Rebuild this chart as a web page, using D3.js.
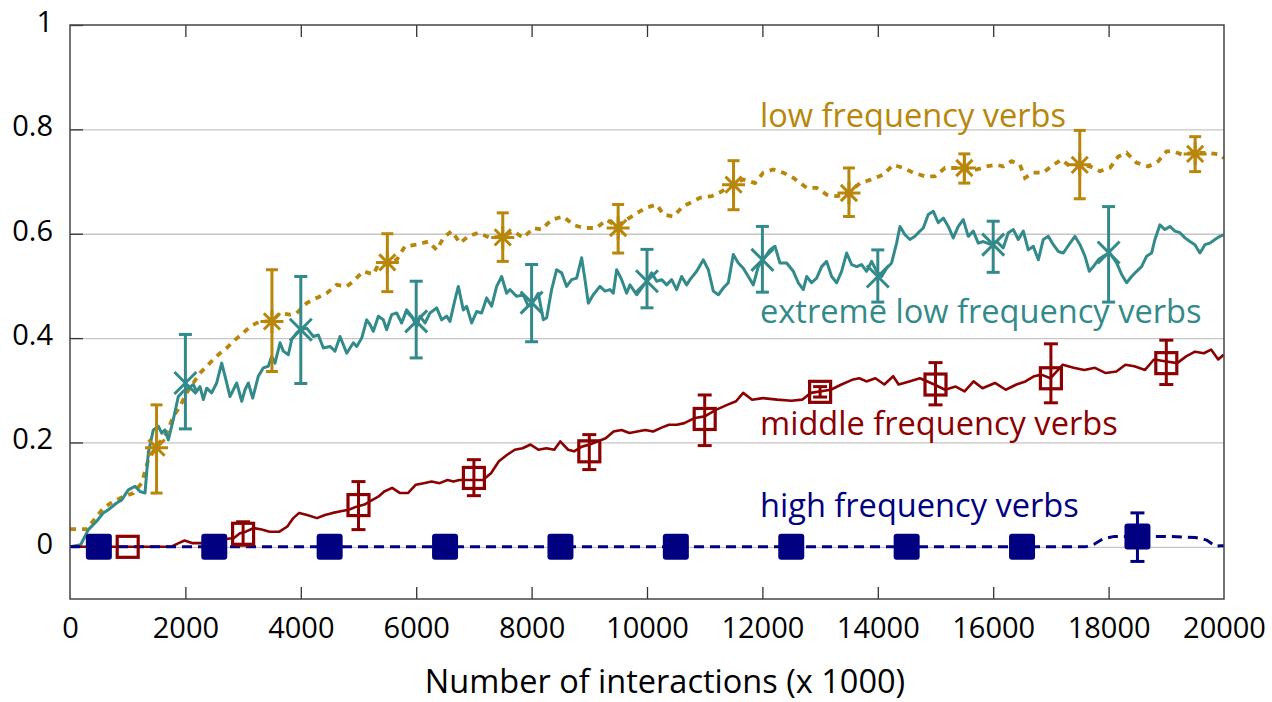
<!DOCTYPE html>
<html><head><meta charset="utf-8">
<script src="https://cdn.jsdelivr.net/npm/d3@7"></script>
<style>
body{margin:0;background:#fff;}
svg{display:block;font-family:"Open Sans",sans-serif;}
</style></head><body>
<svg id="c" width="1272" height="702"></svg>
<script>
// ---------- data ----------
const xTicks = [0,2000,4000,6000,8000,10000,12000,14000,16000,18000,20000];
const yTicks = [0,0.2,0.4,0.6,0.8,1];
const yTickLabels = ["0","0.2","0.4","0.6","0.8","1"];
const gridValues = [0,0.2,0.4,0.6,0.8];
const xTitle = "Number of interactions (x 1000)";
const seriesNames = ["low frequency verbs","extreme low frequency verbs","middle frequency verbs","high frequency verbs"];

// low frequency verbs (gold, dotted)
const lowLine = [[0,0.034],[300,0.034],[318,0.038],[462,0.058],[578,0.074],[751,0.087],[925,0.096],[1098,0.103],[1242,0.122],[1357,0.167],[1502,0.192],[1675,0.218],[1791,0.25],[1906,0.269],[2022,0.295],[2137,0.314],[2253,0.333],[2369,0.346],[2484,0.359],[2600,0.371],[2716,0.381],[2831,0.394],[2976,0.407],[3120,0.422],[3235,0.429],[3351,0.432],[3495,0.432],[3640,0.448],[3813,0.445],[3929,0.448],[4102,0.467],[4275,0.477],[4449,0.486],[4622,0.502],[4795,0.499],[4911,0.509],[5084,0.528],[5257,0.522],[5344,0.541],[5488,0.544],[5662,0.55],[5806,0.576],[6008,0.579],[6210,0.585],[6355,0.569],[6470,0.592],[6615,0.605],[6759,0.582],[6903,0.595],[7077,0.602],[7279,0.592],[7510,0.595],[7683,0.605],[7856,0.592],[8030,0.611],[8174,0.608],[8347,0.627],[8549,0.633],[8723,0.617],[8896,0.611],[9127,0.611],[9300,0.627],[9474,0.614],[9647,0.627],[9792,0.637],[9965,0.649],[10168,0.656],[10283,0.637],[10456,0.633],[10629,0.653],[10745,0.659],[10918,0.669],[11120,0.672],[11294,0.681],[11467,0.694],[11669,0.704],[11871,0.697],[12015,0.717],[12189,0.723],[12362,0.717],[12536,0.707],[12767,0.688],[12940,0.688],[13113,0.675],[13287,0.672],[13460,0.675],[13691,0.697],[13893,0.704],[14095,0.713],[14268,0.732],[14442,0.726],[14615,0.717],[14817,0.71],[14990,0.71],[15164,0.726],[15308,0.726],[15481,0.726],[15712,0.723],[15886,0.729],[16060,0.732],[16175,0.729],[16320,0.739],[16464,0.732],[16551,0.707],[16695,0.717],[16868,0.717],[17042,0.732],[17186,0.742],[17331,0.729],[17475,0.732],[17677,0.729],[17850,0.72],[18023,0.726],[18168,0.748],[18312,0.755],[18486,0.736],[18688,0.729],[18861,0.739],[19006,0.758],[19121,0.758],[19265,0.752],[19467,0.755],[19698,0.755],[19929,0.752],[20000,0.745]];
const lowX  = [1500,3500,5500,7500,9500,11500,13500,15500,17500,19500];
const lowY  = [0.19,0.432,0.545,0.593,0.611,0.694,0.678,0.726,0.732,0.753];
const lowLo = [0.103,0.336,0.489,0.547,0.563,0.646,0.633,0.697,0.667,0.719];
const lowHi = [0.272,0.531,0.600,0.640,0.656,0.740,0.726,0.753,0.798,0.786];

// extreme low frequency verbs (teal)
const extLine = [[0,0],[185,0.004],[318,0.033],[462,0.049],[578,0.065],[664,0.071],[809,0.084],[896,0.09],[1011,0.109],[1127,0.116],[1213,0.106],[1300,0.103],[1357,0.18],[1444,0.224],[1531,0.231],[1589,0.218],[1646,0.224],[1704,0.205],[1791,0.244],[1877,0.288],[1964,0.298],[2051,0.304],[2137,0.311],[2195,0.298],[2253,0.307],[2311,0.282],[2369,0.304],[2455,0.295],[2542,0.314],[2629,0.352],[2687,0.327],[2773,0.288],[2831,0.301],[2889,0.314],[2976,0.279],[3033,0.301],[3091,0.314],[3166,0.285],[3264,0.327],[3351,0.343],[3437,0.346],[3495,0.365],[3553,0.352],[3640,0.391],[3697,0.375],[3784,0.368],[3842,0.397],[3929,0.41],[3986,0.416],[4102,0.419],[4218,0.403],[4304,0.406],[4391,0.381],[4507,0.384],[4593,0.375],[4680,0.403],[4796,0.371],[4911,0.391],[4969,0.384],[5056,0.4],[5142,0.435],[5200,0.426],[5257,0.413],[5344,0.442],[5430,0.435],[5488,0.416],[5575,0.445],[5662,0.448],[5748,0.429],[5835,0.454],[5922,0.442],[6008,0.422],[6066,0.442],[6153,0.429],[6239,0.448],[6355,0.458],[6441,0.435],[6528,0.442],[6586,0.432],[6673,0.474],[6730,0.499],[6816,0.454],[6874,0.461],[6961,0.429],[7048,0.451],[7134,0.448],[7221,0.477],[7307,0.461],[7394,0.499],[7481,0.518],[7567,0.486],[7625,0.493],[7741,0.48],[7856,0.483],[7943,0.461],[8030,0.47],[8116,0.486],[8203,0.435],[8261,0.439],[8347,0.493],[8434,0.531],[8521,0.525],[8607,0.499],[8694,0.512],[8781,0.515],[8867,0.554],[8925,0.512],[8983,0.467],[9069,0.483],[9185,0.499],[9272,0.49],[9358,0.493],[9416,0.486],[9474,0.531],[9561,0.512],[9647,0.486],[9705,0.502],[9821,0.483],[9907,0.496],[9994,0.509],[10081,0.525],[10168,0.509],[10254,0.512],[10341,0.502],[10427,0.512],[10514,0.493],[10600,0.518],[10687,0.502],[10745,0.512],[10861,0.528],[10976,0.55],[11063,0.531],[11149,0.49],[11236,0.483],[11323,0.496],[11409,0.506],[11496,0.56],[11582,0.544],[11669,0.534],[11756,0.518],[11842,0.502],[11929,0.537],[12015,0.55],[12131,0.569],[12218,0.576],[12304,0.544],[12420,0.544],[12536,0.528],[12622,0.506],[12709,0.493],[12767,0.518],[12853,0.506],[12940,0.515],[13027,0.537],[13113,0.547],[13200,0.518],[13287,0.506],[13373,0.528],[13460,0.563],[13546,0.541],[13633,0.537],[13720,0.541],[13806,0.528],[13893,0.547],[13980,0.528],[14066,0.518],[14153,0.534],[14239,0.544],[14326,0.582],[14384,0.614],[14471,0.598],[14557,0.589],[14644,0.595],[14702,0.602],[14788,0.611],[14875,0.637],[14962,0.643],[15048,0.621],[15135,0.63],[15222,0.614],[15308,0.592],[15395,0.614],[15481,0.627],[15568,0.595],[15655,0.605],[15741,0.582],[15828,0.585],[15944,0.58],[16060,0.585],[16175,0.573],[16262,0.602],[16349,0.608],[16435,0.589],[16522,0.605],[16608,0.569],[16695,0.576],[16782,0.55],[16868,0.589],[16955,0.595],[17042,0.579],[17128,0.566],[17215,0.563],[17331,0.582],[17417,0.595],[17504,0.579],[17590,0.557],[17666,0.528],[17735,0.537],[17821,0.55],[17908,0.557],[18023,0.563],[18139,0.544],[18226,0.522],[18312,0.506],[18399,0.518],[18486,0.528],[18572,0.537],[18659,0.557],[18745,0.563],[18803,0.589],[18890,0.617],[18976,0.608],[19063,0.614],[19150,0.605],[19236,0.602],[19323,0.592],[19410,0.585],[19496,0.579],[19583,0.563],[19669,0.579],[19756,0.582],[19843,0.589],[19929,0.595],[19990,0.598]];
const extX  = [2000,4000,6000,8000,10000,12000,14000,16000,18000];
const extY  = [0.314,0.416,0.432,0.468,0.509,0.55,0.518,0.579,0.564];
const extLo = [0.226,0.313,0.362,0.393,0.458,0.488,0.469,0.526,0.469];
const extHi = [0.407,0.518,0.509,0.541,0.57,0.614,0.569,0.624,0.652];

// middle frequency verbs (dark red)
const midLine = [[0,0],[1745,0],[1883,0.007],[1986,0.012],[2124,0.007],[2293,0.007],[2431,0.013],[2568,0.012],[2705,0.015],[2842,0.017],[2945,0.026],[3047,0.029],[3184,0.036],[3322,0.033],[3459,0.029],[3629,0.029],[3767,0.039],[3870,0.055],[3972,0.065],[4109,0.061],[4281,0.055],[4418,0.061],[4555,0.065],[4692,0.068],[4829,0.071],[4966,0.077],[5103,0.081],[5241,0.09],[5343,0.096],[5446,0.106],[5583,0.113],[5720,0.103],[5857,0.103],[5994,0.119],[6131,0.122],[6268,0.125],[6406,0.122],[6543,0.128],[6645,0.125],[6748,0.128],[6885,0.128],[7022,0.128],[7159,0.128],[7296,0.141],[7433,0.164],[7571,0.176],[7708,0.186],[7845,0.189],[7982,0.196],[8119,0.186],[8256,0.189],[8393,0.186],[8496,0.202],[8633,0.186],[8735,0.183],[8872,0.192],[9009,0.196],[9147,0.202],[9284,0.208],[9421,0.221],[9558,0.224],[9695,0.218],[9832,0.221],[9969,0.224],[10106,0.221],[10243,0.228],[10380,0.234],[10518,0.234],[10647,0.237],[10832,0.247],[11000,0.25],[11203,0.263],[11389,0.272],[11544,0.279],[11667,0.295],[11822,0.282],[12008,0.285],[12255,0.282],[12503,0.28],[12688,0.282],[12842,0.295],[13184,0.301],[13370,0.311],[13555,0.32],[13680,0.323],[13803,0.317],[13958,0.323],[14113,0.311],[14267,0.327],[14361,0.311],[14546,0.317],[14731,0.323],[14979,0.311],[15165,0.301],[15350,0.307],[15504,0.298],[15660,0.317],[15814,0.304],[16031,0.314],[16217,0.301],[16402,0.311],[16558,0.317],[16712,0.327],[16835,0.33],[16991,0.323],[17207,0.349],[17393,0.343],[17579,0.339],[17764,0.343],[17950,0.333],[18135,0.336],[18291,0.349],[18446,0.346],[18631,0.339],[18786,0.359],[19003,0.355],[19188,0.352],[19344,0.365],[19498,0.374],[19652,0.371],[19776,0.378],[19900,0.359],[19993,0.368]];
const midX  = [1000,3000,5000,7000,9000,11000,13000,15000,17000,19000];
const midY  = [0,0.025,0.08,0.132,0.183,0.245,0.297,0.311,0.323,0.352];
const midLo = [0,0.003,0.033,0.098,0.148,0.194,0.287,0.272,0.276,0.311];
const midHi = [0,0.048,0.125,0.167,0.215,0.291,0.307,0.353,0.389,0.396];

// high frequency verbs (navy, dashed)
const highLine = [[0,0],[17600,0],[17750,0.005],[17900,0.015],[18100,0.02],[18500,0.02],[19000,0.02],[19500,0.018],[19700,0.013],[19850,0.001],[19950,0.002],[20000,0.002]];
const highX  = [500,2500,4500,6500,8500,10500,12500,14500,16500,18500];
const highY  = [0,0,0,0,0,0,0,0,0,0.02];
const highLo = [0,0,0,0,0,0,0,0,0,-0.028];
const highHi = [0,0,0,0,0,0,0,0,0,0.065];

const colors = {low:"#b8860b", ext:"#338a8a", mid:"#8b0000", high:"#000080"};

// ---------- chart ----------
const svg = d3.select("#c");
const x = d3.scaleLinear([0,20000],[70,1224]);
const y = d3.scaleLinear([-0.1,1],[599,25]);
const L = x.range()[0], R = x.range()[1], T = y.range()[1], B = y.range()[0];

svg.append("defs").append("clipPath").attr("id","clip")
  .append("rect").attr("x",L).attr("y",T).attr("width",R-L).attr("height",B-T);

// gridlines
const grid = svg.append("g").attr("transform",`translate(${L},0)`)
  .call(d3.axisLeft(y).tickValues(gridValues).tickSize(-(R-L)).tickFormat(""));
grid.select(".domain").remove();
grid.selectAll("line").attr("stroke","#c6c6c6").attr("stroke-width",1.3);

// left axis ticks + labels
const ya = svg.append("g").attr("transform",`translate(${L},0)`)
  .call(d3.axisLeft(y).tickValues(yTicks).tickSize(-13).tickPadding(17)
        .tickFormat((d,i)=>yTickLabels[i]));
ya.select(".domain").remove();
ya.selectAll("line").attr("stroke","#333").attr("stroke-width",1.3);
ya.selectAll("text").attr("font-size",29).attr("font-family","'Open Sans',sans-serif")
  .attr("fill","#000").attr("dy","0.22em");

// bottom axis
const xa = svg.append("g").attr("transform",`translate(0,${B})`)
  .call(d3.axisBottom(x).tickValues(xTicks).tickSize(-12).tickPadding(18).tickFormat(d3.format("d")));
xa.select(".domain").remove();
xa.selectAll("line").attr("stroke","#333").attr("stroke-width",1.3);
xa.selectAll("text").attr("font-size",29).attr("font-family","'Open Sans',sans-serif").attr("fill","#000");
xa.selectAll(".tick").filter(d=>d===0||d===20000).select("line").remove();

// top axis ticks
const ta = svg.append("g").attr("transform",`translate(0,${T})`)
  .call(d3.axisTop(x).tickValues(xTicks.slice(1,-1)).tickSize(-12).tickFormat(""));
ta.select(".domain").remove();
ta.selectAll("line").attr("stroke","#333").attr("stroke-width",1.3);

// axis title
svg.append("text").attr("x",665).attr("y",693).attr("text-anchor","middle")
  .attr("font-size",32.5).attr("fill","#000").text(xTitle);

const plot = svg.append("g").attr("clip-path","url(#clip)");
const line = d3.line().x(d=>x(d[0])).y(d=>y(d[1]));

function errbars(g, xs, lo, hi, col, cap){
  xs.forEach((xv,i)=>{
    if (hi[i]-lo[i] < 0.002) return;
    const px = x(xv);
    g.append("line").attr("x1",px).attr("x2",px).attr("y1",y(lo[i])).attr("y2",y(hi[i]))
      .attr("stroke",col).attr("stroke-width",3);
    [lo[i],hi[i]].forEach(v=>{
      g.append("line").attr("x1",px-cap).attr("x2",px+cap).attr("y1",y(v)).attr("y2",y(v))
        .attr("stroke",col).attr("stroke-width",3);
    });
  });
}

// low (gold)
plot.append("path").datum(lowLine).attr("d",line).attr("fill","none")
  .attr("stroke",colors.low).attr("stroke-width",3.8).attr("stroke-dasharray","6,6");
// extreme (teal)
plot.append("path").datum(extLine).attr("d",line).attr("fill","none")
  .attr("stroke",colors.ext).attr("stroke-width",3).attr("stroke-linejoin","round");
// middle (red)
plot.append("path").datum(midLine).attr("d",line).attr("fill","none")
  .attr("stroke",colors.mid).attr("stroke-width",2.6).attr("stroke-linejoin","round");
// high (navy dashed)
plot.append("path").datum(highLine).attr("d",line).attr("fill","none")
  .attr("stroke",colors.high).attr("stroke-width",3).attr("stroke-dasharray","10,6");

const mk = svg.append("g");
// gold stars
errbars(mk, lowX, lowLo, lowHi, colors.low, 6);
lowX.forEach((xv,i)=>{
  const px=x(xv), py=y(lowY[i]), r=11.5, d=8.1;
  mk.append("path").attr("d",`M${px-r},${py}H${px+r}M${px},${py-r}V${py+r}M${px-d},${py-d}L${px+d},${py+d}M${px-d},${py+d}L${px+d},${py-d}`)
    .attr("stroke",colors.low).attr("stroke-width",3).attr("fill","none");
});
// teal x
errbars(mk, extX, extLo, extHi, colors.ext, 6.5);
extX.forEach((xv,i)=>{
  const px=x(xv), py=y(extY[i]), d=11;
  mk.append("path").attr("d",`M${px-d},${py-d}L${px+d},${py+d}M${px-d},${py+d}L${px+d},${py-d}`)
    .attr("stroke",colors.ext).attr("stroke-width",3).attr("fill","none");
});
// red hollow squares
errbars(mk, midX, midLo, midHi, colors.mid, 7);
midX.forEach((xv,i)=>{
  const px=x(xv), py=y(midY[i]), s=10.5;
  mk.append("rect").attr("x",px-s).attr("y",py-s).attr("width",2*s).attr("height",2*s)
    .attr("fill","none").attr("stroke",colors.mid).attr("stroke-width",3.2);
});
// navy filled squares
errbars(mk, highX, highLo, highHi, colors.high, 7);
highX.forEach((xv,i)=>{
  const px=x(xv), py=y(highY[i]), s=13;
  mk.append("rect").attr("x",px-s).attr("y",py-s).attr("width",2*s).attr("height",2*s)
    .attr("rx",3).attr("fill",colors.high);
});

// frame
svg.append("rect").attr("x",L).attr("y",T).attr("width",R-L).attr("height",B-T)
  .attr("fill","none").attr("stroke","#444").attr("stroke-width",1.5);

// series labels
const labelY = [127,323,435,517];
const labelCol = [colors.low,colors.ext,colors.mid,colors.high];
seriesNames.forEach((n,i)=>{
  svg.append("text").attr("x",760).attr("y",labelY[i]).attr("font-size",32.6)
    .attr("fill",labelCol[i]).text(n);
});
</script>
</body></html>
